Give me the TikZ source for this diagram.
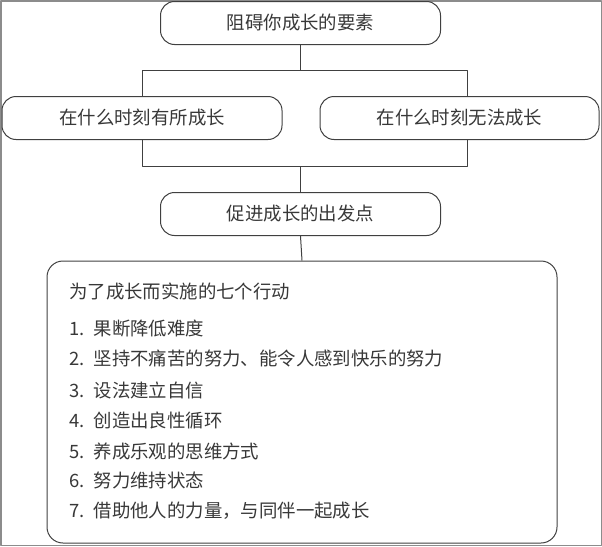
\documentclass[tikz,border=0pt]{standalone}
\usepackage{fontspec}
\setmainfont{Noto Sans CJK SC}
\definecolor{trait}{HTML}{404040}
\definecolor{texte}{HTML}{383838}
\definecolor{cadre}{HTML}{8C8C8C}
\tikzset{
  boite/.style={draw=trait, line width=1pt, rounded corners=14pt, text=texte,
    minimum width=280pt, minimum height=43pt, inner sep=0pt,
    font=\fontsize{18.4}{21}\selectfont},
  ligne/.style={draw=trait, line width=1pt},
  item/.style={anchor=west, text=texte, inner sep=0pt, font=\fontsize{18.4}{21}\selectfont}
}
\begin{document}
\begin{tikzpicture}[x=1pt, y=-1pt, line join=round]

    % Cadre de l'image
    \draw[cadre, line width=1.5pt] (0.75,0.75) rectangle (601.25,545.25);
    \useasboundingbox (0,0) rectangle (602,546);

    % Les boites
    \node[boite] (haut) at (300.5,23) {阻碍你成长的要素};
    \node[boite] (gauche) at (142,118) {在什么时刻有所成长};
    \node[boite, minimum width=279pt] (droite) at (459.5,118) {在什么时刻无法成长};
    \node[boite] (milieu) at (300.5,214) {促进成长的出发点};
    \node[draw=trait, line width=1pt, rounded corners=16pt, minimum width=510pt,
          minimum height=282pt] (bas) at (302,402) {};

    % Points de jonction
    \coordinate (jA) at (142,70);
    \coordinate (jB) at (467,70);
    \coordinate (jC) at (142,166);
    \coordinate (jD) at (467,166);

    % Liaisons du haut
    \draw[ligne] (haut.south) -- (haut.south |- jA);
    \draw[ligne] (jA |- gauche.north) -- (jA) -- (jB) -- (jB |- droite.north);

    % Liaisons du bas
    \draw[ligne] (jC |- gauche.south) -- (jC) -- (jD) -- (jD |- droite.south);
    \draw[ligne] (milieu.north |- jC) -- (milieu.north);
    \draw[ligne] (milieu.south) -- (bas.north);

    % Les sept actions
    \node[item] (titre) at (69,292) {为了成长而实施的七个行动};
    \foreach \n/\y/\t in {1/329/果断降低难度,
                          2/359/坚持不痛苦的努力、能令人感到快乐的努力,
                          3/390/设法建立自信,
                          4/420/创造出良性循环,
                          5/451/养成乐观的思维方式,
                          6/481/努力维持状态,
                          7/511/借助他人的力量，与同伴一起成长}
        \node[item] (action\n) at (69,\y) {\n.\hspace{0.5em}\t};

\end{tikzpicture}
\end{document}
